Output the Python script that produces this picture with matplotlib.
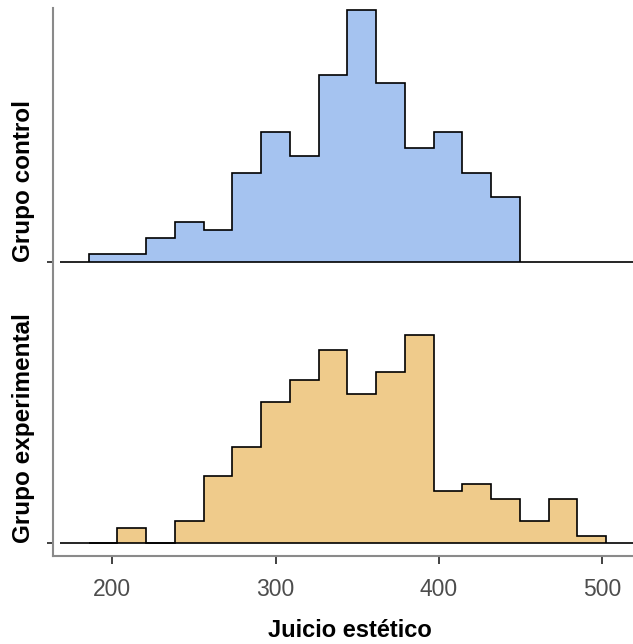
import numpy as np
import matplotlib
matplotlib.use('Agg')
import matplotlib.pyplot as plt

plt.rcParams['font.family'] = ['Liberation Sans', 'DejaVu Sans']

# ---- data ----
groups = ['Grupo experimental', 'Grupo control']
bin_start = 185.5
bin_width = 17.6
control_counts = [1, 1, 3, 5, 4, 11, 16, 13, 23, 31, 22, 14, 16, 11, 8]
experimental_counts = [0, 2, 0, 3, 9, 13, 19, 22, 26, 20, 23, 28, 7, 8, 6, 3, 6, 1]
x_ticks = [200, 300, 400, 500]
x_label = 'Juicio estético'

# ---- style ----
fills = {'Grupo control': '#A5C3F0', 'Grupo experimental': '#EFCB8B'}
counts_by_group = {'Grupo control': control_counts,
                   'Grupo experimental': experimental_counts}
peak_height = 0.90
xlim = (163.9, 526.6)
ylim = (0.955, 2.906)

W, H = 633, 644
fig = plt.figure(figsize=(W / 100, H / 100), dpi=100)
left_px, right_px, top_px, bottom_px = 53.3, 645.7, 8, 556
ax = fig.add_axes([left_px / W, 1 - bottom_px / H,
                   (right_px - left_px) / W, (bottom_px - top_px) / H])

dens = {}
for g in groups:
    c = np.asarray(counts_by_group[g], dtype=float)
    dens[g] = c / (c.sum() * bin_width)
scale = peak_height / max(d.max() for d in dens.values())

for i, g in enumerate(groups):
    y0 = i + 1
    h = dens[g] * scale
    edges = bin_start + bin_width * np.arange(len(h) + 1)
    ax.hlines(y0, xlim[0] + 4, xlim[1] + 10, color='black', lw=1.2, zorder=2)
    ax.stairs(y0 + h, edges, baseline=y0, fill=True, color=fills[g],
              lw=0, zorder=1)
    ax.stairs(y0 + h, edges, baseline=y0, fill=False, color='black',
              lw=1.2, zorder=3)

ax.set_xlim(*xlim)
ax.set_ylim(*ylim)
ax.set_xticks(x_ticks)
ax.set_xticklabels([str(t) for t in x_ticks])
ax.set_yticks([1, 2])
ax.set_yticklabels(groups, rotation=90, va='bottom', ha='right',
                   fontweight='bold', fontsize=17.5, color='black')
for sp in ['top', 'right']:
    ax.spines[sp].set_visible(False)
for sp in ['left', 'bottom']:
    ax.spines[sp].set_color('#8a8a8a')
    ax.spines[sp].set_linewidth(1.5)
ax.tick_params(axis='x', length=6, width=1.3, color='#333333',
               labelsize=16.5, labelcolor='#4D4D4D', pad=10)
ax.tick_params(axis='y', length=4, width=1.3, color='#333333', pad=9)
ax.set_xlabel(x_label, fontsize=17, fontweight='bold', color='black')
ax.xaxis.set_label_coords(0.5, -0.115)

fig.savefig('out.png', dpi=100)
